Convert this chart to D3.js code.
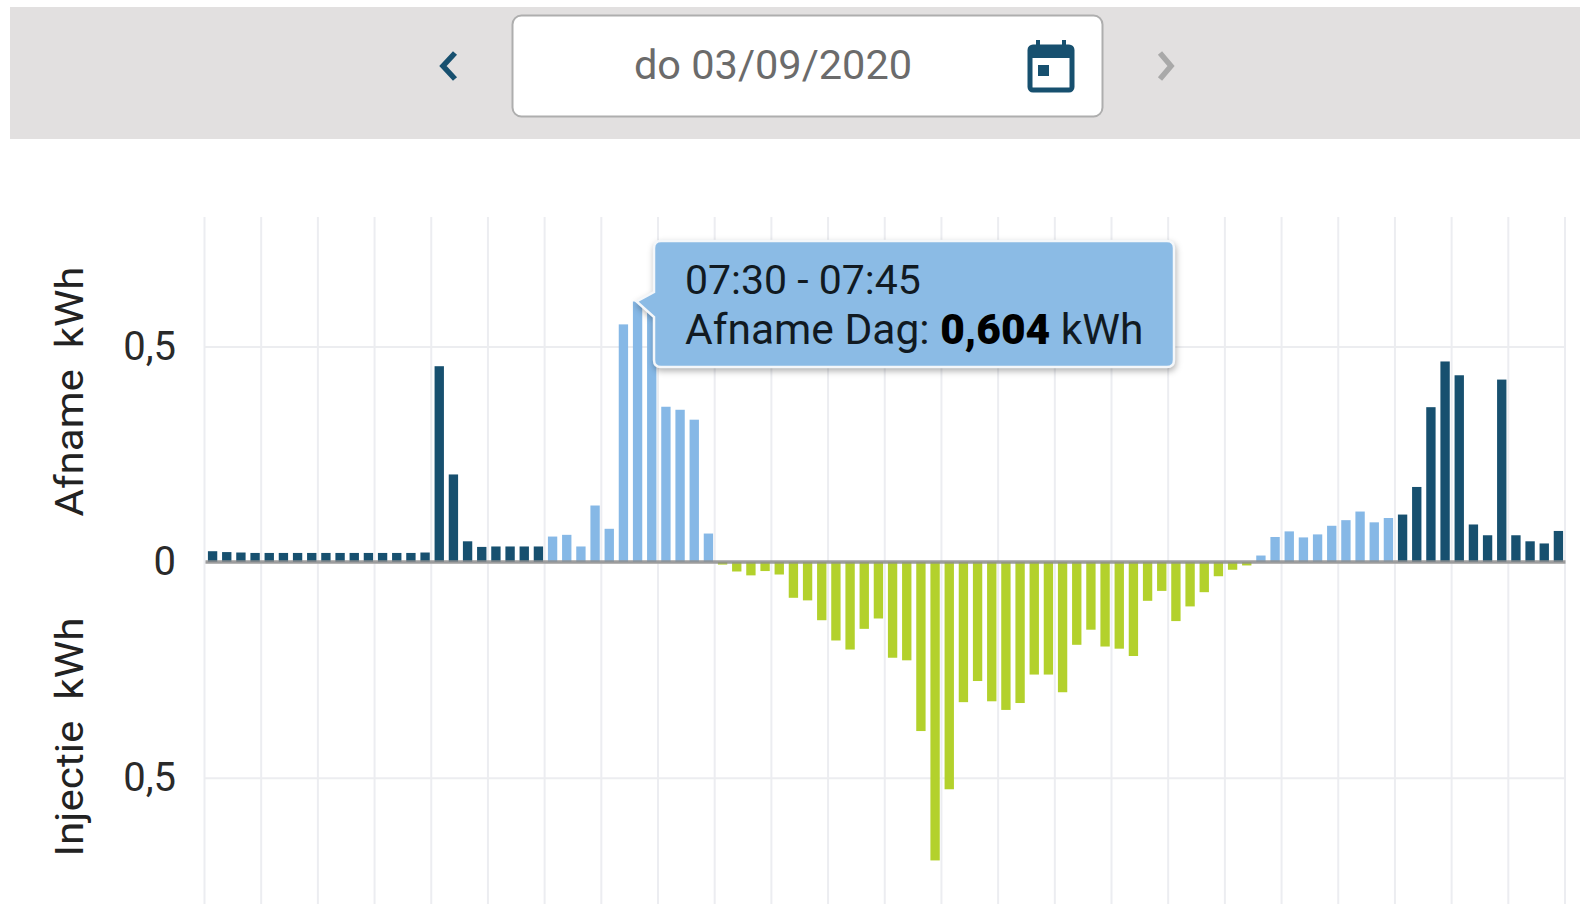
<!DOCTYPE html>
<html><head><meta charset="utf-8">
<script src="https://cdn.jsdelivr.net/npm/d3@7/dist/d3.min.js"></script>
<style>
html,body{margin:0;padding:0;background:#fff;overflow:hidden}
svg{display:block}
text{font-family:Roboto,sans-serif}
</style></head><body>
<svg id="c" width="1580" height="904"></svg>
<script>
const dateLabel = "do 03/09/2020";
const yTicks = [-0.5, 0, 0.5];
const hours = d3.range(0, 25);
// quarter-hour values, kWh (00:00 ... 23:45)
const afname = [
 .025,.023,.022,.021,.021,.021,.021,.021,.021,.021,.021,.021,.021,.021,.021,.022,
 .454,.203,.048,.035,.036,.036,.036,.036,
 .059,.063,.036,.131,.077,.551,.604,.580,.360,.353,.330,.066,
 0,0,0,0,0,0,0,0,0,0,0,0,0,0,0,0,0,0,0,0,0,0,0,0,0,0,0,0,0,0,0,0,0,0,0,0,0,0,
 .015,.058,.071,.057,.064,.084,.097,.117,.092,.102,
 .110,.174,.359,.465,.433,.087,.062,.423,.062,.048,.043,.072];
const injectie = [
 0,0,0,0,0,0,0,0,0,0,0,0,0,0,0,0,0,0,0,0,0,0,0,0,
 0,0,0,0,0,0,0,0,0,0,0,0,
 .006,.022,.031,.021,.029,.083,.089,.135,.182,.203,.155,.131,.222,.228,.392,.692,.527,.325,.276,.323,.343,.327,.261,.261,.302,.192,.157,.196,.201,.218,.090,.067,.137,.103,.070,.033,.018,.008,
 0,0,0,0,0,0,0,0,0,0,0,0,0,0,0,0,0,0,0,0,0,0];
const nightSlots = d3.range(0,24).concat(d3.range(84,96));
const colors = {night:"#17506f", day:"#86b8e6", inj:"#b3d12c"};

const svg = d3.select("#c");
const slots = d3.range(96);
const x = d3.scaleBand().domain(slots).range([205.5,1565.5]).paddingInner(0.34).paddingOuter(0.17);
const xh = d3.scaleLinear().domain([0,24]).range([204,1564.5]);
const y = d3.scaleLinear().domain([-0.8,0.8]).range([907,217]);

// header bar
svg.append("rect").attr("x",10).attr("y",7).attr("width",1570).attr("height",132).attr("fill","#e2e0e0");
svg.append("rect").attr("x",512.5).attr("y",15.5).attr("width",590).attr("height",101).attr("rx",9)
  .attr("fill","#fff").attr("stroke","#aeaeae").attr("stroke-width",2);
svg.append("text").attr("x",773).attr("y",79).attr("text-anchor","middle")
  .attr("font-size",41.5).attr("fill","#6b6b6b").text(dateLabel);
svg.append("path").attr("d","M455 53 L443 66 L455 79").attr("fill","none")
  .attr("stroke","#17506f").attr("stroke-width",5.5);
svg.append("path").attr("d","M1160 53 L1171 66 L1160 79").attr("fill","none")
  .attr("stroke","#a9a9a9").attr("stroke-width",5.5);
// calendar icon
const ic = svg.append("g");
ic.append("rect").attr("x",1030).attr("y",47).attr("width",42).attr("height",43).attr("rx",3)
  .attr("fill","#fff").attr("stroke","#17506f").attr("stroke-width",5);
ic.append("rect").attr("x",1030).attr("y",46).attr("width",42).attr("height",12).attr("fill","#17506f");
ic.append("rect").attr("x",1036).attr("y",40).attr("width",4).attr("height",8).attr("fill","#17506f");
ic.append("rect").attr("x",1062).attr("y",40).attr("width",4).attr("height",8).attr("fill","#17506f");
ic.append("rect").attr("x",1038).attr("y",65).attr("width",11).attr("height",11).attr("fill","#17506f");

// grid
const gx = svg.append("g").attr("transform","translate(0,217)")
  .call(d3.axisBottom(xh).tickValues(hours).tickSize(690).tickFormat(""));
gx.select(".domain").remove();
gx.selectAll("line").attr("stroke","#ecedf1").attr("stroke-width",2);

const gy = svg.append("g").attr("transform","translate(204,0)")
  .call(d3.axisLeft(y).tickValues(yTicks).tickSize(-1360).tickPadding(28)
    .tickFormat(d => String(Math.abs(d)).replace(".",",")));
gy.select(".domain").remove();
gy.selectAll("line").attr("stroke","#ecedf0").attr("stroke-width",2);
gy.selectAll("text").attr("font-family","Liberation Sans, Arial, sans-serif").attr("font-size",40).attr("fill","#2a2a2a");

// bars
svg.append("g").selectAll("rect").data(slots.filter(i=>afname[i]>0)).join("rect")
  .attr("x",i=>x(i)).attr("width",x.bandwidth())
  .attr("y",i=>y(afname[i])).attr("height",i=>y(0)-y(afname[i]))
  .attr("fill",i=>nightSlots.includes(i)?colors.night:colors.day);
svg.append("g").selectAll("rect").data(slots.filter(i=>injectie[i]>0)).join("rect")
  .attr("x",i=>x(i)).attr("width",x.bandwidth())
  .attr("y",y(0)).attr("height",i=>y(-injectie[i])-y(0))
  .attr("fill",colors.inj);

// zero line
svg.append("line").attr("x1",205.5).attr("x2",1565.5).attr("y1",y(0)).attr("y2",y(0))
  .attr("stroke","#8f8f8f").attr("stroke-width",3.5).attr("opacity",.85);

// axis titles
function vtitle(t,yc,len){
  svg.append("text").attr("transform",`translate(83,${yc}) rotate(-90)`).attr("text-anchor","middle")
    .attr("font-size",38).attr("fill","#222").attr("textLength",len).attr("lengthAdjust","spacingAndGlyphs")
    .style("white-space","pre").text(t);
}
vtitle("Afname  kWh",391.5,250);
vtitle("Injectie  kWh",737,239);

// tooltip
const tipX = x(30)+x.bandwidth()/2-1, tipY = y(0.604);
const L=654,R=1174,T=241,B=367,r=7;
svg.append("path")
  .attr("d",`M${L+r} ${T} H${R-r} Q${R} ${T} ${R} ${T+r} V${B-r} Q${R} ${B} ${R-r} ${B} H${L+r} Q${L} ${B} ${L} ${B-r} V317 L${tipX} ${tipY} L${L} 292 V${T+r} Q${L} ${T} ${L+r} ${T} Z`)
  .attr("fill","#8bbbe5").attr("stroke","#f4f7fa").attr("stroke-width",2.5)
  .style("filter","drop-shadow(1px 3px 3px rgba(0,0,0,.3))");
const tip = svg.append("text").attr("fill","#111a22");
tip.append("tspan").attr("x",685).attr("y",294).attr("font-size",41).text("07:30 - 07:45");
const l2 = tip.append("tspan").attr("x",685).attr("y",344).attr("font-size",42.5);
l2.append("tspan").text("Afname Dag: ");
l2.append("tspan").attr("font-weight",900).attr("fill","#000").text("0,604");
l2.append("tspan").text(" kWh");
</script>
</body></html>
